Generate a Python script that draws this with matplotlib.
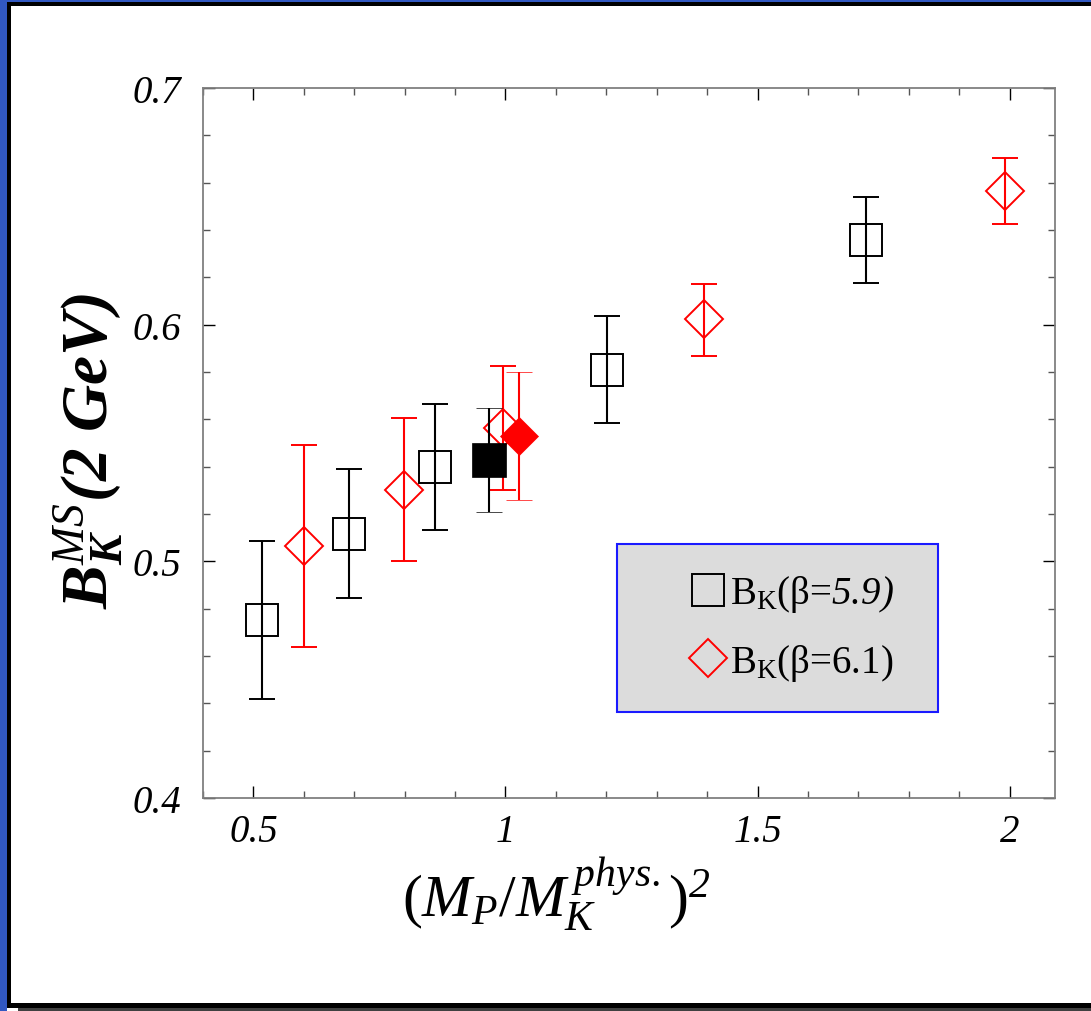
import matplotlib
matplotlib.use('Agg')
import matplotlib.pyplot as plt
from matplotlib.lines import Line2D
from matplotlib.patches import Rectangle
from matplotlib.ticker import MultipleLocator, FixedLocator

plt.rcParams['font.family'] = ['Liberation Serif', 'DejaVu Serif']
plt.rcParams['mathtext.fontset'] = 'custom'
plt.rcParams['mathtext.rm'] = 'Liberation Serif'
plt.rcParams['mathtext.it'] = 'Liberation Serif:italic'
plt.rcParams['mathtext.sf'] = 'Liberation Serif:italic'
plt.rcParams['mathtext.bf'] = 'Liberation Serif:bold:italic'

# ---- data: beta = 5.9 (open squares) ----
x59 = [0.517, 0.690, 0.860, 1.202, 1.715]
y59 = [0.4754, 0.5117, 0.5399, 0.5810, 0.6359]
y59_top = [0.5086, 0.5391, 0.5665, 0.6037, 0.6539]
y59_bot = [0.4420, 0.4844, 0.5134, 0.5583, 0.6176]
# physical point beta = 5.9 (filled square)
x59_phys = [0.967]
y59_phys = [0.5428]
y59_phys_top = [0.5649]
y59_phys_bot = [0.5210]

# ---- data: beta = 6.1 (open diamonds) ----
x61 = [0.601, 0.798, 0.995, 1.393, 1.990]
y61 = [0.5066, 0.5302, 0.5563, 0.6023, 0.6566]
y61_top = [0.5492, 0.5606, 0.5827, 0.6172, 0.6705]
y61_bot = [0.4639, 0.5000, 0.5303, 0.5869, 0.6424]
# physical point beta = 6.1 (filled diamond)
x61_phys = [1.027]
y61_phys = [0.5528]
y61_phys_top = [0.5800]
y61_phys_bot = [0.5259]

xticks = [0.5, 1.0, 1.5, 2.0]
xtick_labels = ['0.5', '1', '1.5', '2']
yticks = [0.4, 0.5, 0.6, 0.7]
ytick_labels = ['0.4', '0.5', '0.6', '0.7']

legend_labels = [r'B$_{\mathrm{K}}$(β=$\mathsf{5.9)}$', r'B$_{\mathrm{K}}$(β=6.1)']


def yerr(y, top, bot):
    return [[a - b for a, b in zip(y, bot)], [t - a for a, t in zip(y, top)]]


W, H = 1091, 1012
fig = plt.figure(figsize=(W / 100, H / 100), dpi=100)
fig.patch.set_facecolor('white')

ax = fig.add_axes([203 / W, 1 - 799 / H, (1055 - 203) / W, (799 - 89) / H])

eb = dict(capsize=9.7, elinewidth=1.5, capthick=1.5, linestyle='none')
ax.errorbar(x59, y59, yerr=yerr(y59, y59_top, y59_bot), color='black',
            marker='s', ms=22.5, mfc='none', mec='black', mew=1.4, zorder=3, **eb)
ax.errorbar(x61, y61, yerr=yerr(y61, y61_top, y61_bot), color='red',
            marker='D', ms=19, mfc='none', mec='red', mew=1.4, zorder=3, **eb)
ax.errorbar(x59_phys, y59_phys, yerr=yerr(y59_phys, y59_phys_top, y59_phys_bot),
            color='black', marker='s', ms=24, mfc='black', mec='black', mew=0.5,
            zorder=4, **eb)
ax.errorbar(x61_phys, y61_phys, yerr=yerr(y61_phys, y61_phys_top, y61_phys_bot),
            color='red', marker='D', ms=19.5, mfc='red', mec='red', mew=0.5,
            zorder=5, **eb)

ax.set_xlim(0.4, 2.09)
ax.set_ylim(0.4, 0.7)
ax.xaxis.set_major_locator(FixedLocator(xticks))
ax.yaxis.set_major_locator(FixedLocator(yticks))
ax.set_xticklabels(xtick_labels, fontstyle='italic', fontsize=28)
ax.set_yticklabels(ytick_labels, fontstyle='italic', fontsize=28)
ax.xaxis.set_minor_locator(MultipleLocator(0.1))
ax.yaxis.set_minor_locator(MultipleLocator(0.02))
ax.tick_params(which='both', direction='in', top=True, right=True)
ax.tick_params(which='major', length=8.6, width=1.0, color='black')
ax.tick_params(which='minor', length=5, width=1.0, color='#555555')
ax.tick_params(axis='x', which='major', pad=11)
ax.tick_params(axis='y', which='major', pad=16)
for s in ax.spines.values():
    s.set_color('#808080')
    s.set_linewidth(1.3)

ax.set_xlabel(r'$(M_P/M_K^{\,phys.})^{\mathsf{2}}$', fontsize=43)
ax.xaxis.set_label_coords((556 - 203) / 852, -0.08)
ax.set_ylabel(r'$\mathbf{B}_{\mathbf{K}}^{\mathit{MS}}\mathbf{(2\ GeV)}$', fontsize=47)
ax.yaxis.set_label_coords(-0.09, 0.49)

# legend box
box = Rectangle((617 / W, 1 - 713 / H), 321 / W, 168 / H, transform=fig.transFigure,
                facecolor='#dcdcdc', edgecolor='#1a1aff', linewidth=1.5, zorder=6,
                clip_on=False)
ax.add_patch(box)
handles = [Line2D([], [], linestyle='none', marker='s', ms=22.5, mfc='none', mec='black', mew=1.4),
           Line2D([], [], linestyle='none', marker='D', ms=19, mfc='none', mec='red', mew=1.4)]
leg = ax.legend(handles, legend_labels, loc='center left',
                bbox_to_anchor=(690 / W, 1 - 629 / H), bbox_transform=fig.transFigure,
                frameon=False, fontsize=28, handlelength=0.92, handletextpad=0.1,
                labelspacing=0.7, borderpad=0, borderaxespad=0, numpoints=1)
leg.set_zorder(7)

# figure border (blue / black frame)
def frect(x0, y0, x1, y1, color):
    fig.add_artist(Rectangle((x0 / W, 1 - y1 / H), (x1 - x0) / W, (y1 - y0) / H,
                             transform=fig.transFigure, facecolor=color,
                             edgecolor='none', zorder=10))

frect(0, 0, W, 3, '#3158c2')
frect(0, 0, 7, H, '#3158c2')
frect(7, 3, W, 7, 'black')
frect(7, 3, 11, 1009, 'black')
frect(7, 1004, W, 1009, 'black')
frect(18, 1009, W, H, '#404040')

fig.savefig('out.png', dpi=100)
